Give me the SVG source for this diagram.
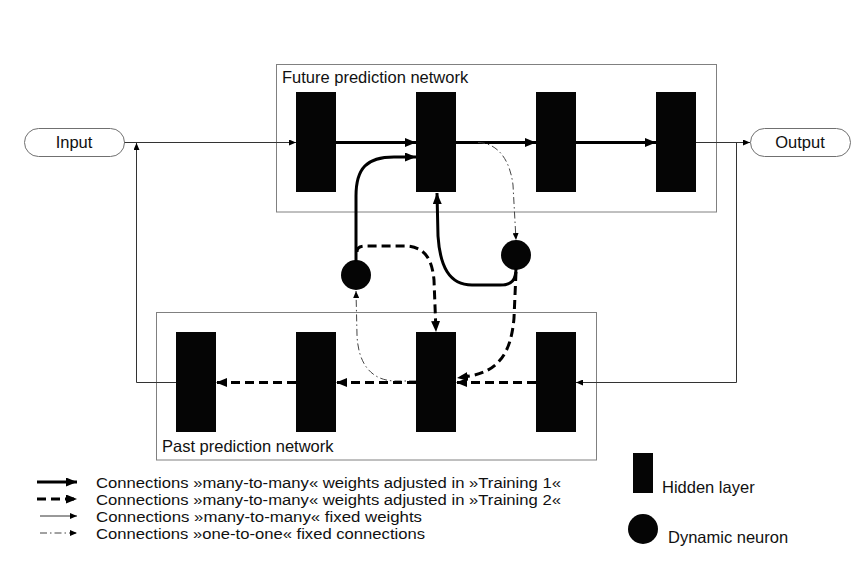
<svg xmlns="http://www.w3.org/2000/svg" width="866" height="576" viewBox="0 0 866 576">
<style>
  .box{fill:none;stroke:#808080;stroke-width:1}
  .blk{fill:#050505}
  .pill{fill:#fff;stroke:#707070;stroke-width:1}
  .lbl{font-family:"Liberation Sans",Arial,sans-serif;font-size:16.5px;fill:#111}
  .leg{font-family:"Liberation Sans",Arial,sans-serif;font-size:15.5px;fill:#111}
  .t1{fill:none;stroke:#000;stroke-width:3}
  .t2{fill:none;stroke:#000;stroke-width:3;stroke-dasharray:9 5}
  .th{fill:none;stroke:#333;stroke-width:1}
  .dd{fill:none;stroke:#444;stroke-width:1;stroke-dasharray:7 3 1.5 3}
</style>
<defs>
  <marker id="ah" markerUnits="userSpaceOnUse" markerWidth="12" markerHeight="10" refX="11" refY="4.5" orient="auto">
    <path d="M0,0 L11,4.5 L0,9 z" fill="#000"/>
  </marker>
  <marker id="as" markerUnits="userSpaceOnUse" markerWidth="8" markerHeight="6" refX="7" refY="3" orient="auto">
    <path d="M0,0 L7,3 L0,6 z" fill="#000"/>
  </marker>
</defs>
<rect width="866" height="576" fill="#fff"/>

<g id="future-network">
  <rect class="box" x="276.5" y="64.5" width="440" height="147.5"/>
  <text class="lbl" x="282" y="83">Future prediction network</text>
</g>
<g id="past-network">
  <rect class="box" x="156.5" y="312.5" width="440" height="147.5"/>
  <text class="lbl" x="162" y="452">Past prediction network</text>
</g>

<g id="input"><rect class="pill" x="24.5" y="128.5" width="100" height="28" rx="14"/><text class="lbl" x="74" y="147.5" text-anchor="middle">Input</text></g>
<g id="output"><rect class="pill" x="750.5" y="128.5" width="100" height="28" rx="14"/><text class="lbl" x="800" y="147.5" text-anchor="middle">Output</text></g>

<g id="f1"><rect class="blk" x="296" y="92" width="40" height="100"/></g>
<g id="f2"><rect class="blk" x="416" y="92" width="40" height="100"/></g>
<g id="f3"><rect class="blk" x="536" y="92" width="40" height="100"/></g>
<g id="f4"><rect class="blk" x="656" y="92" width="40" height="100"/></g>
<g id="p1"><rect class="blk" x="176" y="332" width="40" height="100"/></g>
<g id="p2"><rect class="blk" x="296" y="332" width="40" height="100"/></g>
<g id="p3"><rect class="blk" x="416" y="332" width="40" height="100"/></g>
<g id="p4"><rect class="blk" x="536" y="332" width="40" height="100"/></g>
<g id="n1"><circle cx="356" cy="275" r="15" fill="#050505"/></g>
<g id="n2"><circle cx="516" cy="255" r="15" fill="#050505"/></g>

<g id="connectors">
  <path class="th" d="M124.5,142.5 H296" marker-end="url(#as)"/>
  <path class="th" d="M176,382.5 H136.5 V143" marker-end="url(#as)"/>
  <path class="th" d="M696,142.5 H750" marker-end="url(#as)"/>
  <path class="th" d="M736.5,142.5 V382.5 H576" marker-end="url(#as)"/>
  <path class="t1" d="M336,142.5 H416" marker-end="url(#ah)"/>
  <path class="t1" d="M456,142.5 H536" marker-end="url(#ah)"/>
  <path class="t1" d="M576,142.5 H656" marker-end="url(#ah)"/>
  <path class="t1" d="M356,262 V196 C356,168 367,157 394,157 H416" marker-end="url(#ah)"/>
  <path class="t1" d="M516,268 C516,280 512,285 500,285 H472 C449,285 440,266 438,236 L437,193" marker-end="url(#ah)"/>
  <path class="dd" d="M478,142.5 C498,143 510,160 513,185 L516,240" marker-end="url(#as)"/>
  <path class="dd" d="M416,381 H396 C370,381 358,362 357,335 L356,291" marker-end="url(#as)"/>
  <path class="t2" d="M357,252 C357,247 360,246 367,246 H404 C424,246 432,258 434,280 L436,332" marker-end="url(#ah)"/>
  <path class="t2" d="M516,272 L514,318 C511,355 497,371 470,376 L457,378" marker-end="url(#ah)"/>
  <path class="t2" d="M536,382.5 H456" marker-end="url(#ah)"/>
  <path class="t2" d="M416,382.5 H336" marker-end="url(#ah)"/>
  <path class="t2" d="M296,382.5 H216" marker-end="url(#ah)"/>
</g>

<g id="legend">
  <path class="t1" d="M37,482 H77" marker-end="url(#ah)"/>
  <path class="t2" d="M37,499 H77" marker-end="url(#ah)"/>
  <path class="th" d="M40,516 H77" marker-end="url(#as)"/>
  <path class="dd" d="M40,533 H77" marker-end="url(#as)"/>
  <text class="leg" x="96" y="487.5" textLength="465" lengthAdjust="spacingAndGlyphs">Connections »many-to-many« weights adjusted in »Training 1«</text>
  <text class="leg" x="96" y="504.5" textLength="465" lengthAdjust="spacingAndGlyphs">Connections »many-to-many« weights adjusted in »Training 2«</text>
  <text class="leg" x="96" y="521.5" textLength="326" lengthAdjust="spacingAndGlyphs">Connections »many-to-many« fixed weights</text>
  <text class="leg" x="96" y="538.5" textLength="329" lengthAdjust="spacingAndGlyphs">Connections »one-to-one« fixed connections</text>
  <rect class="blk" x="633" y="453" width="20" height="40"/>
  <text class="lbl" x="662" y="493">Hidden layer</text>
  <circle cx="643" cy="529" r="15" fill="#050505"/>
  <text class="lbl" x="668" y="543">Dynamic neuron</text>
</g>
</svg>
